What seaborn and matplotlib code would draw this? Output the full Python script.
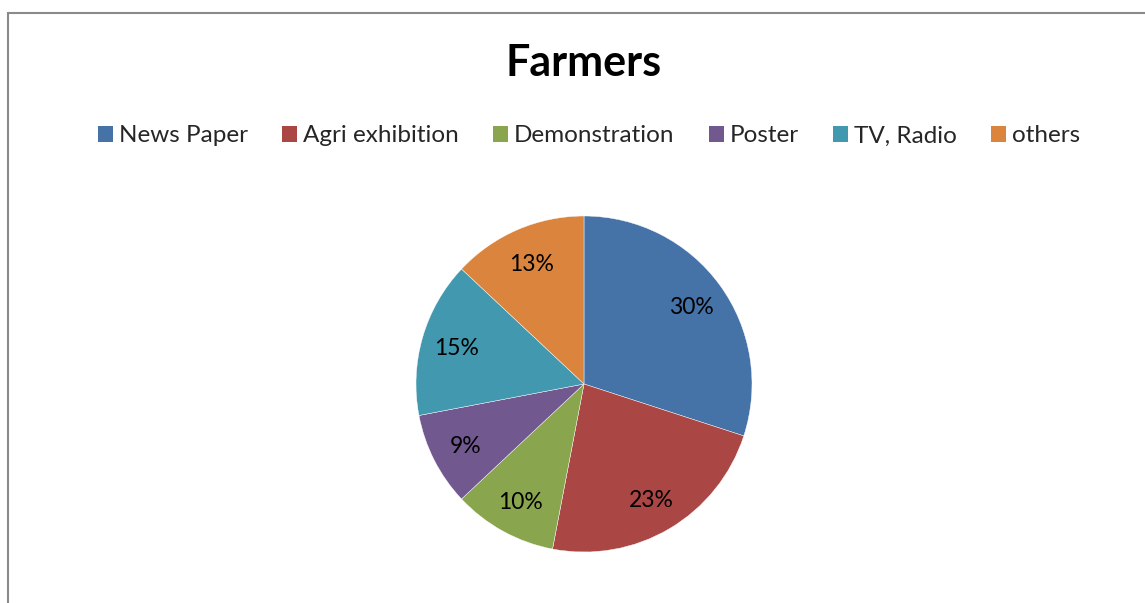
import matplotlib
matplotlib.use("Agg")
import matplotlib.pyplot as plt
from matplotlib.patches import Patch, Rectangle
import seaborn as sns

# Information sources reported by farmers (percent)
categories = ["News Paper", "Agri exhibition", "Demonstration", "Poster", "TV, Radio", "others"]
shares = [30, 23, 10, 9, 15, 13]
colors = ["#4572A7", "#AA4643", "#89A54E", "#71588F", "#4198AF", "#DB843D"]
title = "Farmers"

sns.set_theme(style="white")
plt.rcParams["font.family"] = ["Lato", "DejaVu Sans"]

W, H, DPI = 1145, 603, 100
fig = plt.figure(figsize=(W / DPI, H / DPI), dpi=DPI)
fig.patch.set_facecolor("white")

# outer chart frame (left and top edges visible)
fig.add_artist(Rectangle((7.5 / W, -0.05), 1.2, 1.05 - 12.5 / H,
                         transform=fig.transFigure, fill=False,
                         edgecolor="#8a8a8a", linewidth=1.5))

palette = sns.color_palette(colors)

# pie centred at (584, 384) with radius 168 px
r = 168
cx, cy = 584, 384
ax = fig.add_axes([(cx - r) / W, (H - cy - r) / H, 2 * r / W, 2 * r / H])
wedges, texts = ax.pie(
    shares,
    colors=palette,
    startangle=90,
    counterclock=False,
    labels=[f"{v}%" for v in shares],
    labeldistance=0.79,
    wedgeprops=dict(edgecolor="white", linewidth=0.3),
    textprops=dict(fontsize=16.5, color="black", ha="center", va="center_baseline"),
)
ax.set_xlim(-1, 1)
ax.set_ylim(-1, 1)
ax.set_aspect("equal")
ax.axis("off")

fig.text(584 / W, 1 - 63 / H, title, ha="center", va="center",
         fontsize=31, fontweight="bold", color="black")

handles = [Patch(facecolor=c, edgecolor="none") for c in palette]
fig.legend(handles, categories, loc="center", bbox_to_anchor=(589 / W, 1 - 136 / H),
           ncol=6, frameon=False, fontsize=17.5, handlelength=0.62, handleheight=0.62,
           handletextpad=0.25, columnspacing=1.4, borderaxespad=0)

fig.savefig("out.png", dpi=DPI, facecolor="white")
